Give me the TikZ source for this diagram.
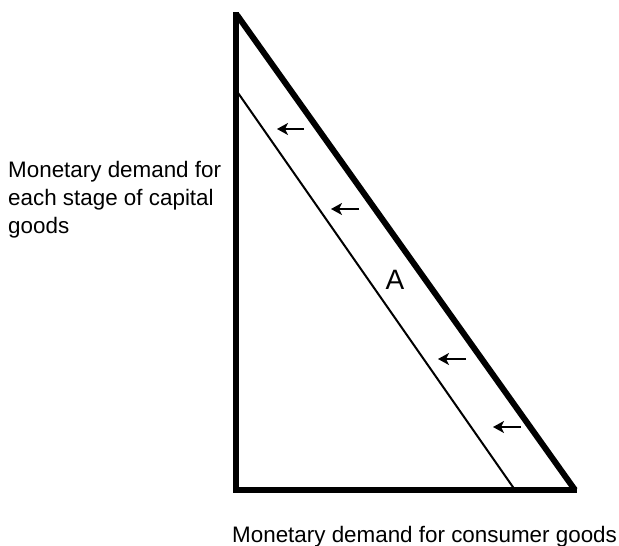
\documentclass[tikz,border=0pt]{standalone}
\usepackage{fontspec}
\setmainfont{Liberation Sans}
\usetikzlibrary{arrows.meta}
\tikzset{
  thickline/.style={line width=6pt, line cap=butt},
  thinline/.style={line width=2pt},
  flowarrow/.style={line width=2.2pt, -{Stealth[length=11pt,width=12pt,inset=3pt]}},
  axislabel/.style={inner sep=0pt, font=\fontsize{22.4}{28}\selectfont, align=left},
}
\begin{document}
\begin{tikzpicture}[x=1pt,y=-1pt]
\useasboundingbox (0,0) rectangle (619,546);
\coordinate (top) at (236,12);
\coordinate (bl) at (236,493);
\coordinate (bll) at (233,490);
\coordinate (br) at (577,490);
\coordinate (hypstart) at (237,15);
\coordinate (hypend) at (575,490);
\coordinate (innerstart) at (236,90);
\coordinate (innerend) at (515,490);
\draw[thickline] (top) -- (bl);
\draw[thickline] (bll) -- (br);
\draw[thickline] (hypstart) -- (hypend);
\draw[thinline] (innerstart) -- (innerend);
\coordinate (a1s) at (304,129); \coordinate (a1e) at (277,129);
\coordinate (a2s) at (359,209); \coordinate (a2e) at (331,209);
\coordinate (a3s) at (466,359); \coordinate (a3e) at (438,359);
\coordinate (a4s) at (521,427); \coordinate (a4e) at (493,427);
\draw[flowarrow] (a1s) -- (a1e);
\draw[flowarrow] (a2s) -- (a2e);
\draw[flowarrow] (a3s) -- (a3e);
\draw[flowarrow] (a4s) -- (a4e);
\node[inner sep=0pt, font=\fontsize{28}{30}\selectfont] (labelA) at (395,280) {A};
\node[axislabel, anchor=north west] (ylabel) at (8,161) {Monetary demand for\\each stage of capital\\goods};
\node[axislabel, anchor=base west] (xlabel) at (232,542) {Monetary demand for consumer goods};
\end{tikzpicture}
\end{document}
